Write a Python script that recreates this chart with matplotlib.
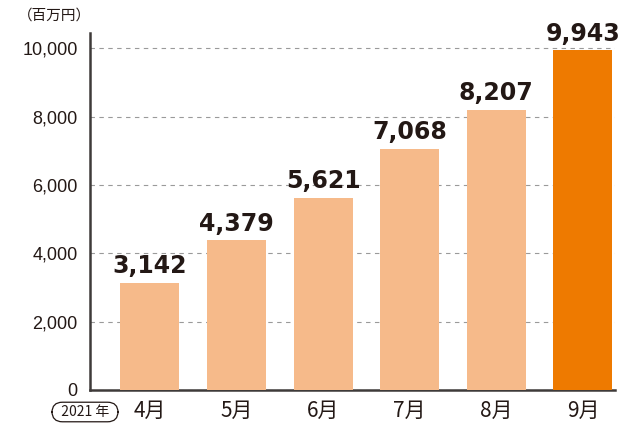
import matplotlib
matplotlib.use("Agg")
import matplotlib.pyplot as plt
from matplotlib.ticker import FuncFormatter

plt.rcParams['font.family'] = ['Noto Sans CJK JP', 'DejaVu Sans']

months = ["4月", "5月", "6月", "7月", "8月", "9月"]
values = [3142, 4379, 5621, 7068, 8207, 9943]
colors = ["#F6BA8A", "#F6BA8A", "#F6BA8A", "#F6BA8A", "#F6BA8A", "#EE7A00"]
yticks = [0, 2000, 4000, 6000, 8000, 10000]

text_color = "#231815"

fig = plt.figure(figsize=(6.27, 4.30), dpi=100)
ax = fig.add_axes([90/627, 40/430, 525/627, 357/430])

x = list(range(len(months)))
ax.bar(x, values, width=0.68, color=colors, zorder=3)

for xi, v in zip(x, values):
    ax.text(xi, v + 140, f"{v:,}", ha="center", va="bottom",
            fontsize=17, fontweight="bold", color=text_color,
            family=["DejaVu Sans"], zorder=4)

ax.set_xlim(-0.69, 5.37)
ax.set_ylim(0, 10450)
ax.set_yticks(yticks)
ax.yaxis.set_major_formatter(FuncFormatter(lambda v, p: f"{int(v):,}"))
ax.set_xticks(x)
ax.set_xticklabels(months)
ax.tick_params(axis="both", length=0, colors=text_color)
ax.tick_params(axis="y", labelsize=13, pad=9)
ax.tick_params(axis="x", labelsize=15, pad=7)
for lab in ax.get_yticklabels():
    lab.set_family(["Liberation Sans", "DejaVu Sans"])

ax.grid(axis="y", linestyle=(0, (4, 4)), color="#9a9a9a", linewidth=0.8, zorder=0)
ax.set_axisbelow(True)
for s in ["top", "right"]:
    ax.spines[s].set_visible(False)
for s in ["left", "bottom"]:
    ax.spines[s].set_color("#3e3a39")
    ax.spines[s].set_linewidth(1.8)

fig.text(54/627, 1 - 16/430, "（百万円）", ha="center", va="center",
         fontsize=10.5, color=text_color)
fig.text(85/627, 1 - 412/430, "  2021 年  ", ha="center", va="center",
         fontsize=10, color=text_color,
         bbox=dict(boxstyle="round,pad=0.2,rounding_size=0.75", fc="white",
                   ec=text_color, lw=0.9))

fig.savefig("out.png", dpi=100)
